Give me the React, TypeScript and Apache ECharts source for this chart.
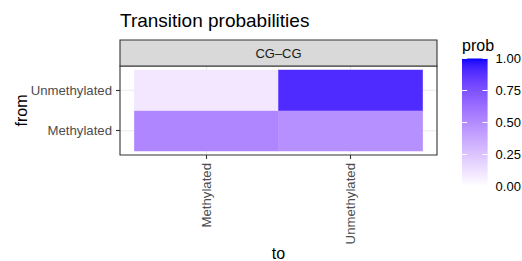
import React, { useEffect, useRef } from "react";
import * as echarts from "echarts";

// ---- data ----
const toCategories = ["Methylated", "Unmethylated"];
const fromCategories = ["Methylated", "Unmethylated"];
// probability of moving to [Methylated, Unmethylated]
const probFromMethylated = [0.52, 0.48];
const probFromUnmethylated = [0.1, 0.9];
const legendBreaks = [0, 0.25, 0.5, 0.75, 1];
const legendLabels = ["0.00", "0.25", "0.50", "0.75", "1.00"];
const titleText = "Transition probabilities";
const stripText = "CG–CG";
const legendTitle = "prob";
const xTitle = "to";
const yTitle = "from";

// ---- colour scale: white -> blue interpolated in CIE Lab (like ggplot2) ----
function toLin(c: number) {
  c /= 255;
  return c <= 0.04045 ? c / 12.92 : Math.pow((c + 0.055) / 1.055, 2.4);
}
function fromLin(c: number) {
  const v = c <= 0.0031308 ? 12.92 * c : 1.055 * Math.pow(c, 1 / 2.4) - 0.055;
  return Math.round(Math.max(0, Math.min(1, v)) * 255);
}
const Xn = 0.95047, Yn = 1, Zn = 1.08883;
function rgbToLab(rgb: number[]) {
  const r = toLin(rgb[0]), g = toLin(rgb[1]), b = toLin(rgb[2]);
  const X = (0.4124564 * r + 0.3575761 * g + 0.1804375 * b) / Xn;
  const Y = (0.2126729 * r + 0.7151522 * g + 0.072175 * b) / Yn;
  const Z = (0.0193339 * r + 0.119192 * g + 0.9503041 * b) / Zn;
  const f = (t: number) => (t > 0.008856 ? Math.cbrt(t) : 7.787 * t + 16 / 116);
  const fx = f(X), fy = f(Y), fz = f(Z);
  return [116 * fy - 16, 500 * (fx - fy), 200 * (fy - fz)];
}
function labToHex(lab: number[]) {
  const fy = (lab[0] + 16) / 116;
  const fx = fy + lab[1] / 500;
  const fz = fy - lab[2] / 200;
  const inv = (t: number) => (t * t * t > 0.008856 ? t * t * t : (t - 16 / 116) / 7.787);
  const X = inv(fx) * Xn, Y = inv(fy) * Yn, Z = inv(fz) * Zn;
  const r = 3.2404542 * X - 1.5371385 * Y - 0.4985314 * Z;
  const g = -0.969266 * X + 1.8760108 * Y + 0.041556 * Z;
  const b = 0.0556434 * X - 0.2040259 * Y + 1.0572252 * Z;
  const h = (v: number) => fromLin(v).toString(16).padStart(2, "0");
  return "#" + h(r) + h(g) + h(b);
}
const lowLab = rgbToLab([255, 255, 255]);
const highLab = rgbToLab([0, 0, 255]);
function scaleColor(t: number) {
  return labToHex(lowLab.map((v, i) => v + (highLab[i] - v) * t));
}
const STOPS = 40;
const rampColors: string[] = [];
for (let i = 0; i <= STOPS; i++) rampColors.push(scaleColor(i / STOPS));

export default function App() {
  const ref = useRef<HTMLDivElement>(null);
  useEffect(() => {
    const chart = echarts.init(ref.current!, null, { renderer: "svg" });
    const font = "'Liberation Sans', Arial, Helvetica, sans-serif";

    const heatData: number[][] = [];
    [probFromMethylated, probFromUnmethylated].forEach((row, yi) => {
      row.forEach((v, xi) => heatData.push([xi, yi, v]));
    });

    const panel = { x: 120, y: 66, w: 317, h: 89 };
    const ux = panel.w / 2.2;
    const uy = panel.h / 2.2;
    const grid = { left: panel.x + 0.1 * ux, top: panel.y + 0.1 * uy, width: 2 * ux, height: 2 * uy };

    const bar = { x: 462, y: 58.5, w: 25.6, h: 128 };

    // gradient stops: offset 0 at top (value 1), offset 1 at bottom (value 0)
    const gradStops = rampColors
      .map((c, i) => ({ offset: 1 - i / STOPS, color: c }))
      .sort((a, b) => a.offset - b.offset);

    const baseGraphics: any[] = [
      {
        type: "rect",
        id: "panelbg",
        z: 0,
        shape: { x: panel.x, y: panel.y, width: panel.w, height: panel.h },
        style: { fill: "#ffffff" },
      },
      {
        type: "rect",
        id: "panelborder",
        z: 50,
        shape: { x: panel.x, y: panel.y, width: panel.w, height: panel.h },
        style: { fill: "none", stroke: "#333333", lineWidth: 1.1 },
      },
      {
        type: "rect",
        id: "strip",
        z: 50,
        shape: { x: panel.x, y: 40, width: panel.w, height: 26 },
        style: { fill: "#d9d9d9", stroke: "#333333", lineWidth: 1.1 },
      },
      {
        type: "text",
        id: "striptext",
        z: 51,
        x: panel.x + panel.w / 2,
        y: 53,
        style: {
          text: stripText,
          fontSize: 13,
          fontFamily: font,
          fill: "#1a1a1a",
          align: "center",
          verticalAlign: "middle",
        },
      },
      {
        type: "text",
        id: "legtitle",
        x: bar.x,
        y: 45,
        style: {
          text: legendTitle,
          fontSize: 16,
          fontFamily: font,
          fill: "#000000",
          align: "left",
          verticalAlign: "middle",
        },
      },
      {
        type: "rect",
        id: "colorbar",
        z: 2,
        shape: { x: bar.x, y: bar.y, width: bar.w, height: bar.h },
        style: {
          fill: {
            type: "linear",
            x: 0,
            y: 0,
            x2: 0,
            y2: 1,
            colorStops: gradStops,
          },
        },
      },
    ];
    legendBreaks.forEach((b, i) => {
      const y = bar.y + (1 - b) * bar.h;
      baseGraphics.push({
        type: "line",
        id: "tl" + i,
        z: 5,
        shape: { x1: bar.x, y1: y, x2: bar.x + bar.w / 5, y2: y },
        style: { stroke: "#ffffff", lineWidth: 1 },
      });
      baseGraphics.push({
        type: "line",
        id: "tr" + i,
        z: 5,
        shape: { x1: bar.x + (bar.w * 4) / 5, y1: y, x2: bar.x + bar.w, y2: y },
        style: { stroke: "#ffffff", lineWidth: 1 },
      });
      baseGraphics.push({
        type: "text",
        id: "ll" + i,
        x: bar.x + bar.w + 8,
        y: y,
        style: {
          text: legendLabels[i],
          fontSize: 13,
          fontFamily: font,
          fill: "#000000",
          align: "left",
          verticalAlign: "middle",
        },
      });
    });

    const option: any = {
      animation: false,
      backgroundColor: "#ffffff",
      title: {
        text: titleText,
        left: panel.x,
        top: 11,
        padding: 0,
        textStyle: { fontSize: 19, fontWeight: "normal", color: "#000000", fontFamily: font },
      },
      grid: { ...grid, containLabel: false, outerBoundsMode: "none" },
      xAxis: {
        type: "category",
        data: toCategories,
        offset: panel.y + panel.h - (grid.top + grid.height),
        axisLine: { show: false },
        axisTick: { show: true, alignWithLabel: true, length: 4, lineStyle: { color: "#333333", width: 1.1 } },
        axisLabel: { rotate: 90, margin: 8, fontSize: 13.2, color: "#4d4d4d", fontFamily: font },
        splitLine: { show: false },
        name: xTitle,
        nameLocation: "middle",
        nameMoveOverlap: false,
        nameGap: 90,
        nameTextStyle: { fontSize: 16, color: "#000000", fontFamily: font },
      },
      yAxis: {
        type: "category",
        data: fromCategories,
        offset: grid.left - panel.x,
        axisLine: { show: false },
        axisTick: { show: true, alignWithLabel: true, length: 4, lineStyle: { color: "#333333", width: 1.1 } },
        axisLabel: { margin: 8, fontSize: 13.2, color: "#4d4d4d", fontFamily: font },
        splitLine: { show: false },
        name: yTitle,
        nameLocation: "middle",
        nameMoveOverlap: false,
        nameRotate: 90,
        nameGap: 91,
        nameTextStyle: { fontSize: 16, color: "#000000", fontFamily: font },
      },
      visualMap: {
        show: false,
        type: "continuous",
        min: 0,
        max: 1,
        dimension: 2,
        inRange: { color: rampColors },
      },
      series: [
        {
          type: "heatmap",
          data: heatData,
          z: 10,
          itemStyle: { borderWidth: 0 },
          emphasis: { disabled: true },
        },
      ],
      graphic: { elements: baseGraphics },
    };
    chart.setOption(option);

    // grid lines at category centres, spanning the full (expanded) panel
    const gridLines: any[] = [];
    toCategories.forEach((c, i) => {
      const p = chart.convertToPixel({ gridIndex: 0 }, [c, fromCategories[0]]) as number[];
      gridLines.push({
        type: "line",
        id: "gx" + i,
        z: 1,
        shape: { x1: p[0], y1: panel.y, x2: p[0], y2: panel.y + panel.h },
        style: { stroke: "#ebebeb", lineWidth: 1.1 },
      });
    });
    fromCategories.forEach((c, i) => {
      const p = chart.convertToPixel({ gridIndex: 0 }, [toCategories[0], c]) as number[];
      gridLines.push({
        type: "line",
        id: "gy" + i,
        z: 1,
        shape: { x1: panel.x, y1: p[1], x2: panel.x + panel.w, y2: p[1] },
        style: { stroke: "#ebebeb", lineWidth: 1.1 },
      });
    });
    option.graphic = { elements: [...baseGraphics, ...gridLines] };
    chart.setOption(option, true);

    return () => chart.dispose();
  }, []);
  return (
    <div
      ref={ref}
      style={{ position: "fixed", left: 0, top: 0, width: 522, height: 261, background: "#fff" }}
    />
  );
}
